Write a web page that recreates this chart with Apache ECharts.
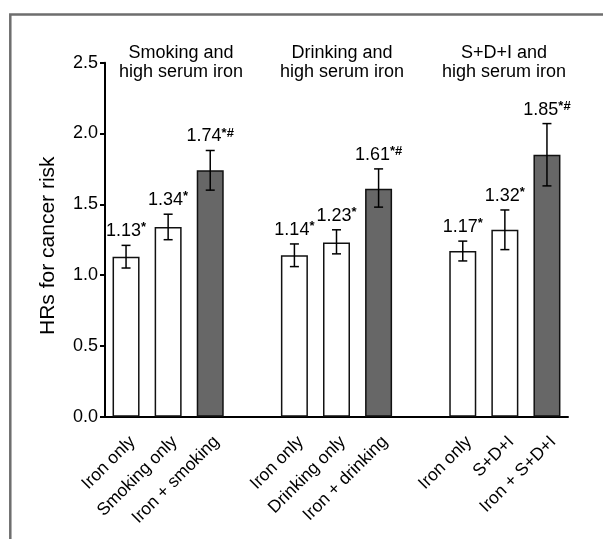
<!DOCTYPE html>
<html>
<head>
<meta charset="utf-8">
<script src="https://cdn.jsdelivr.net/npm/echarts@6/dist/echarts.min.js"></script>
<style>
html,body{margin:0;padding:0;background:#fff;}
#c{width:603px;height:539px;}
</style>
</head>
<body>
<div id="c"></div>
<script>
// ---- data ----
const categories = ['Iron only','Smoking only','Iron + smoking','',
                    'Iron only','Drinking only','Iron + drinking','',
                    'Iron only','S+D+I','Iron + S+D+I'];
const hrValues   = [1.13, 1.34, 1.74, null, 1.14, 1.23, 1.61, null, 1.17, 1.32, 1.85];
const ciLower    = [1.05, 1.25, 1.60, null, 1.06, 1.15, 1.48, null, 1.10, 1.18, 1.63];
const ciUpper    = [1.21, 1.43, 1.88, null, 1.22, 1.32, 1.75, null, 1.24, 1.46, 2.07];
const sigMarks   = ['*', '*', '*#', '', '*', '*', '*#', '', '*', '*', '*#'];
const isCombined = [false, false, true, false, false, false, true, false, false, false, true];
const groupTitles = ['Smoking and\nhigh serum iron', 'Drinking and\nhigh serum iron', 'S+D+I and\nhigh serum iron'];
const yTicks = [0, 0.5, 1.0, 1.5, 2.0, 2.5];
const yAxisName = 'HRs for cancer risk';

const FONT = 'Liberation Sans, Arial, sans-serif';
const chart = echarts.init(document.getElementById('c'), null, {renderer: 'canvas'});

const barData = hrValues.map((v, i) => v == null ? null : ({
  value: v,
  itemStyle: {color: isCombined[i] ? '#676767' : '#ffffff'}
}));
const errData = hrValues.map((v, i) => v == null ? null : [i, ciLower[i], ciUpper[i], v, sigMarks[i]])
  .filter(d => d);

const titleX = [181, 342, 504];

chart.setOption({
  animation: false,
  backgroundColor: '#fff',
  grid: {left: 105, right: 35, top: 62.7, bottom: 122.3},
  xAxis: {
    type: 'category',
    data: categories,
    axisLine: {lineStyle: {color: '#000', width: 2}},
    axisTick: {alignWithLabel: true, length: 6, lineStyle: {color: '#000', width: 2},
               interval: (i, v) => v !== ''},
    axisLabel: {rotate: 45, interval: 0, fontSize: 17.5, color: '#000', margin: 16,
                verticalAlign: 'top', fontFamily: FONT}
  },
  yAxis: {
    type: 'value',
    min: yTicks[0], max: yTicks[yTicks.length - 1], interval: 0.5,
    name: yAxisName,
    nameLocation: 'middle',
    nameGap: 46,
    nameTextStyle: {fontSize: 21, color: '#000', fontFamily: FONT, padding: [0, 12, 0, 0]},
    axisLine: {show: true, lineStyle: {color: '#000', width: 2}},
    axisTick: {show: true, length: 5, lineStyle: {color: '#000', width: 2}},
    axisLabel: {fontSize: 18, color: '#000', margin: 7, fontFamily: FONT,
                formatter: v => v.toFixed(1)},
    splitLine: {show: false}
  },
  graphic: [
    {type: 'rect', shape: {x: 10.3, y: 14.6, width: 800, height: 800},
     style: {fill: 'none', stroke: '#6e6e6e', lineWidth: 2.5}, silent: true}
  ].concat(groupTitles.map((t, i) => ({
    type: 'text', x: titleX[i], y: 62.5,
    style: {text: t, fontSize: 18, fontFamily: FONT, fill: '#000',
            align: 'center', verticalAlign: 'middle', lineHeight: 19.5}
  }))),
  series: [
    {
      type: 'bar',
      data: barData,
      barWidth: 27,
      z: 2,
      itemStyle: {borderColor: '#111', borderWidth: 1.5},
      silent: true
    },
    {
      type: 'custom',
      data: errData,
      silent: true,
      z: 10,
      renderItem: function (params, api) {
        const idx = api.value(0);
        const lo = api.coord([idx, api.value(1)]);
        const hi = api.coord([idx, api.value(2)]);
        const x = lo[0];
        const cap = 4.5;
        const ls = {stroke: '#000', lineWidth: 1.5};
        const v = api.value(3);
        const mark = errData[params.dataIndex][4];
        return {
          type: 'group',
          children: [
            {type: 'line', shape: {x1: x, y1: lo[1], x2: x, y2: hi[1]}, style: ls},
            {type: 'line', shape: {x1: x - cap, y1: lo[1], x2: x + cap, y2: lo[1]}, style: ls},
            {type: 'line', shape: {x1: x - cap, y1: hi[1], x2: x + cap, y2: hi[1]}, style: ls},
            {type: 'text', x: x, y: hi[1] - 14,
             style: {
               text: '{n|' + v.toFixed(2) + '}{s|' + mark + '}',
               align: 'center', verticalAlign: 'middle',
               rich: {
                 n: {fontSize: 18, fontFamily: FONT, fill: '#000', lineHeight: 20},
                 s: {fontSize: 13, fontFamily: FONT, fill: '#000', fontWeight: 'bold',
                     lineHeight: 12, verticalAlign: 'top'}
               }
             }}
          ]
        };
      }
    }
  ]
});
</script>
</body>
</html>
